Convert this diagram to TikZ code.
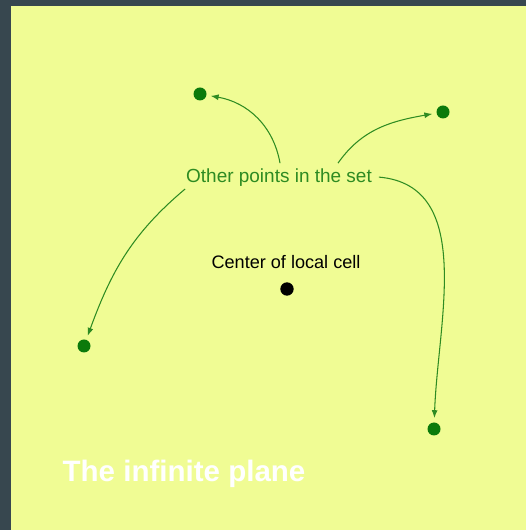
\documentclass[tikz,border=0pt]{standalone}
\usepackage{fontspec}
\setmainfont{Liberation Sans}
\usepackage{tikz}
\usetikzlibrary{arrows.meta,positioning}
\definecolor{slate}{HTML}{37474F}
\definecolor{paleyellow}{HTML}{F0FC94}
\definecolor{dotgreen}{HTML}{0B7A0B}
\definecolor{textgreen}{HTML}{2E8B22}

\begin{document}
\begin{tikzpicture}[x=0.02cm, y=0.02cm,
	gdot/.style={circle, fill=dotgreen, inner sep=0pt, minimum size=7.4pt, outer sep=2.5pt},
	cdot/.style={circle, fill=black, inner sep=0pt, minimum size=7.6pt},
	pointer/.style={-{Latex[length=4.5pt, width=3.4pt]}, draw=textgreen, line width=0.6pt}]

	% the plane
	\fill[slate] (0,0) rectangle (526,530);
	\fill[paleyellow] (11,0) rectangle (526,524);

	\node[cdot] (center) at (287,241) {};
	\node[anchor=base, font=\fontsize{10.3pt}{12pt}\selectfont] (centerlabel) at (286,261) {Center of local cell};

	\node[anchor=base, inner sep=1pt, text=textgreen, font=\fontsize{10.8pt}{13pt}\selectfont] (others) at (279,347) {Other points in the set};

	\foreach \name/\x/\y in {p1/200/436, p2/443/418, p3/84/184, p4/434/101}{
		\node[gdot] (\name) at (\x,\y) {};
	}

	\draw[pointer] ([shift={(1,4)}]others.north) to[out=100, in=350] (p1);
	\draw[pointer] ([shift={(59,4)}]others.north) to[out=55, in=190] (p2);
	\draw[pointer] ([shift={(1,0)}]others.south west) to[out=220, in=70] (p3);
	\draw[pointer] ([shift={(5,1)}]others.east) to[out=-5, in=88] (p4);

	\node[anchor=base, text=white, font=\bfseries\fontsize{16.8pt}{20pt}\selectfont] (plane) at (184,48) {The infinite plane};
\end{tikzpicture}
\end{document}
